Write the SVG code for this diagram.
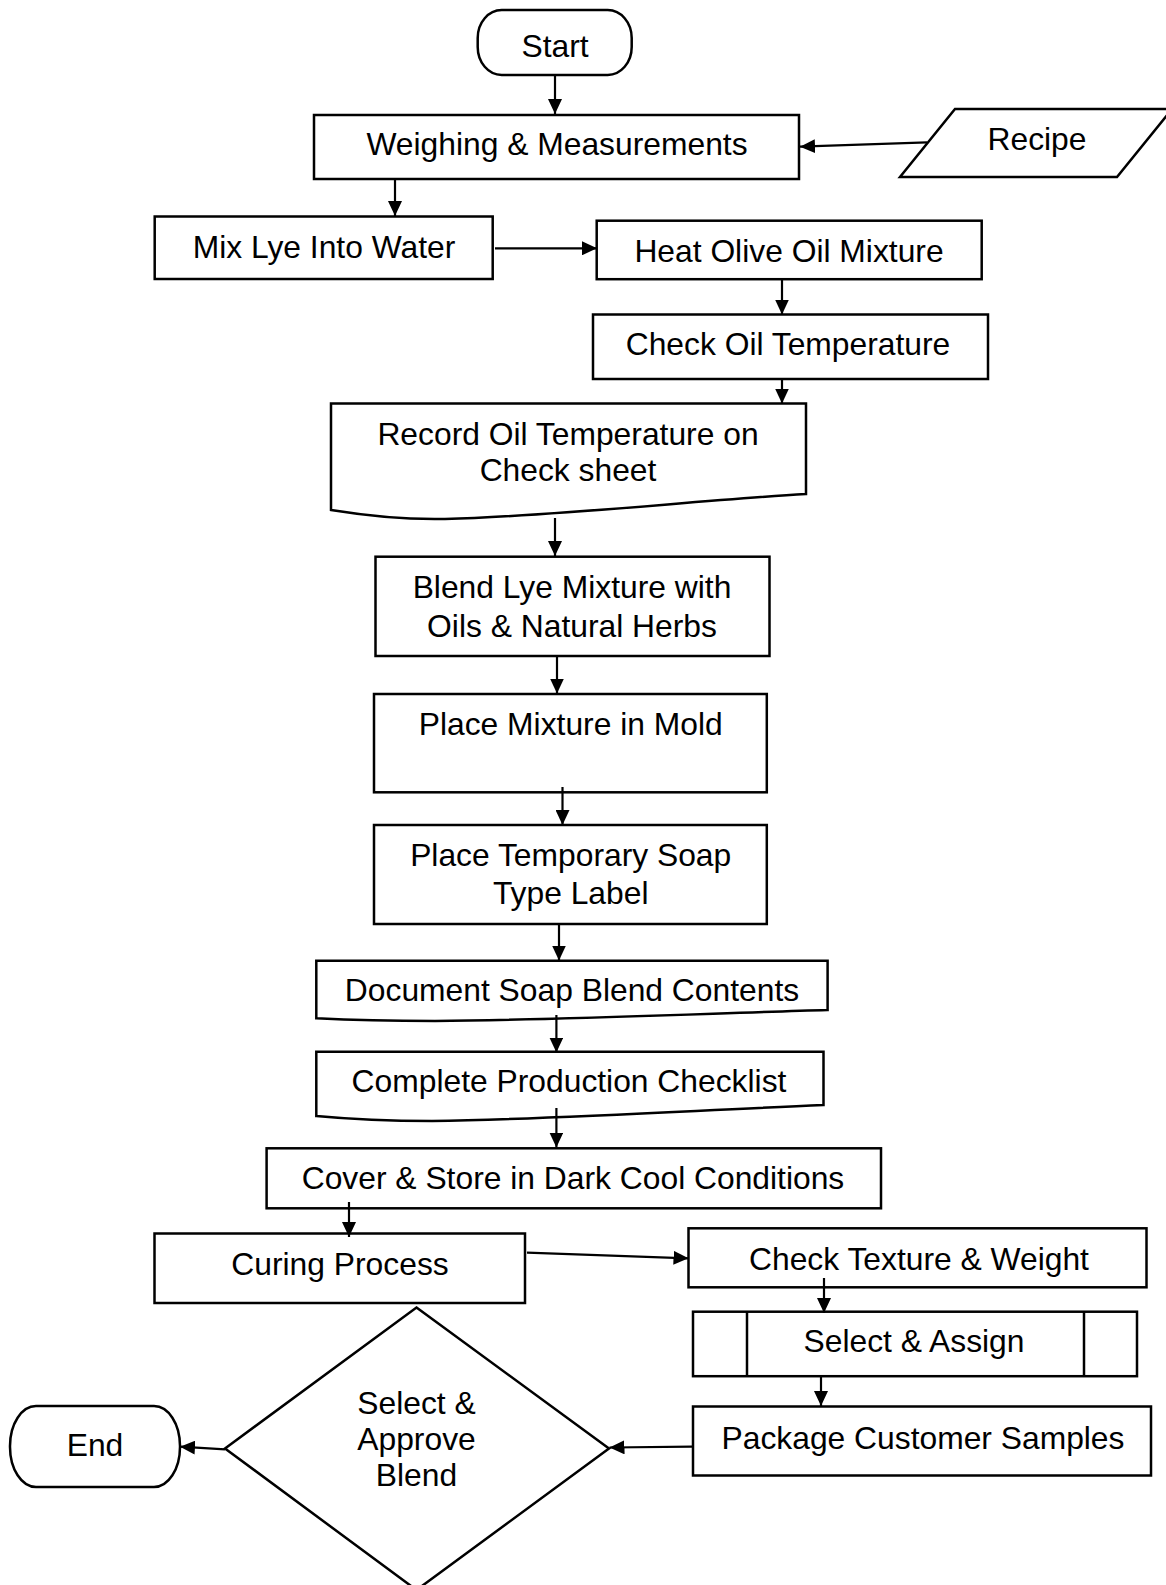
<svg xmlns="http://www.w3.org/2000/svg" width="1166" height="1585" viewBox="0 0 1166 1585">
<defs>
<marker id="ah" markerUnits="userSpaceOnUse" markerWidth="15" markerHeight="14" refX="15" refY="7" orient="auto">
<path d="M0,0 L15,7 L0,14 Z" fill="#000"/>
</marker>
<style>
.s{fill:#fff;stroke:#000;stroke-width:2.5}
.t{font-family:"Liberation Sans",Arial,sans-serif;font-size:31.8px;fill:#000;text-anchor:middle}
.c{fill:none;stroke:#000;stroke-width:2.2;marker-end:url(#ah)}
</style>
</defs>
<rect width="1166" height="1585" fill="#fff"/>
<g id="start"><rect class="s" x="477.7" y="10" width="154" height="65" rx="24" ry="28"/><text class="t" x="555" y="57">Start</text></g>
<g id="weighing"><rect class="s" x="314" y="115" width="485" height="64"/><text class="t" x="557" y="155">Weighing &amp; Measurements</text></g>
<g id="recipe"><polygon class="s" points="955,109 1172,109 1117,177 900,177"/><text class="t" x="1037" y="150">Recipe</text></g>
<g id="mixlye"><rect class="s" x="154.7" y="216.5" width="338" height="62.5"/><text class="t" x="324" y="258">Mix Lye Into Water</text></g>
<g id="heatoil"><rect class="s" x="596.7" y="220.7" width="385" height="58.5"/><text class="t" x="789" y="262">Heat Olive Oil Mixture</text></g>
<g id="checkoil"><rect class="s" x="593" y="314.5" width="395" height="64.5"/><text class="t" x="788" y="355">Check Oil Temperature</text></g>
<g id="record"><path class="s" d="M331,403.5 H806 V494 C700,500 560,516 445,519 C400,520 362,515 331,510 Z"/><text class="t" x="568" y="445">Record Oil Temperature on</text><text class="t" x="568" y="481">Check sheet</text></g>
<g id="blend"><rect class="s" x="375.5" y="556.7" width="394" height="99.3"/><text class="t" x="572" y="598">Blend Lye Mixture with</text><text class="t" x="572" y="637">Oils &amp; Natural Herbs</text></g>
<g id="mold"><rect class="s" x="374" y="694" width="392.8" height="98.3"/><text class="t" x="570.7" y="735">Place Mixture in Mold</text></g>
<g id="templabel"><rect class="s" x="374" y="825" width="392.8" height="99"/><text class="t" x="570.7" y="866">Place Temporary Soap</text><text class="t" x="570.7" y="904">Type Label</text></g>
<g id="docblend"><path class="s" d="M316.3,960.7 H827.6 V1010 C720,1013 560,1020 435,1021 C390,1021 350,1020 316.3,1018.3 Z"/><text class="t" x="572" y="1001">Document Soap Blend Contents</text></g>
<g id="checklist"><path class="s" d="M316.3,1051.7 H823.5 V1105 C700,1110 560,1119 432,1121 C385,1121 348,1119 316.3,1116 Z"/><text class="t" x="569" y="1092">Complete Production Checklist</text></g>
<g id="cover"><rect class="s" x="266.6" y="1148.3" width="614.4" height="60"/><text class="t" x="573" y="1189">Cover &amp; Store in Dark Cool Conditions</text></g>
<g id="curing"><rect class="s" x="154.5" y="1233.5" width="370.5" height="69.5"/><text class="t" x="340" y="1275">Curing Process</text></g>
<g id="texture"><rect class="s" x="688.5" y="1228.3" width="458" height="59"/><text class="t" x="919" y="1270">Check Texture &amp; Weight</text></g>
<g id="assign"><rect class="s" x="693" y="1311.7" width="444" height="64.5"/><line class="s" x1="747" y1="1311.7" x2="747" y2="1376.2"/><line class="s" x1="1084" y1="1311.7" x2="1084" y2="1376.2"/><text class="t" x="914" y="1352">Select &amp; Assign</text></g>
<g id="package"><rect class="s" x="693" y="1406.5" width="458" height="69"/><text class="t" x="923" y="1449">Package Customer Samples</text></g>
<g id="approve"><polygon class="s" points="416.5,1307.5 609,1448.5 416.5,1590 225,1448.5"/><text class="t" x="416.5" y="1414">Select &amp;</text><text class="t" x="416.5" y="1450">Approve</text><text class="t" x="416.5" y="1486">Blend</text></g>
<g id="end"><rect class="s" x="10" y="1406" width="170" height="81" rx="26" ry="40"/><text class="t" x="95" y="1456">End</text></g>
<g id="connectors">
<line class="c" x1="555" y1="75" x2="555" y2="114"/>
<line class="c" x1="395" y1="179" x2="395" y2="216"/>
<line class="c" x1="927" y1="142.3" x2="800" y2="146.7"/>
<line class="c" x1="495" y1="248.3" x2="597" y2="248.3"/>
<line class="c" x1="782" y1="279" x2="782" y2="314.5"/>
<line class="c" x1="782" y1="379" x2="782" y2="403.5"/>
<line class="c" x1="555" y1="518" x2="555" y2="556"/>
<line class="c" x1="557" y1="656" x2="557" y2="693.5"/>
<line class="c" x1="562.5" y1="787" x2="562.5" y2="825"/>
<line class="c" x1="559" y1="924" x2="559" y2="960.5"/>
<line class="c" x1="556.4" y1="1015" x2="556.4" y2="1052.5"/>
<line class="c" x1="556.4" y1="1108" x2="556.4" y2="1147.5"/>
<line class="c" x1="349" y1="1202" x2="349" y2="1237"/>
<line class="c" x1="527" y1="1252.7" x2="688.5" y2="1258.3"/>
<line class="c" x1="824" y1="1278" x2="824" y2="1313"/>
<line class="c" x1="821" y1="1376" x2="821" y2="1406"/>
<line class="c" x1="692" y1="1446.7" x2="609.5" y2="1447.5"/>
<line class="c" x1="225" y1="1449.3" x2="180" y2="1446.7"/>
</g>
</svg>
